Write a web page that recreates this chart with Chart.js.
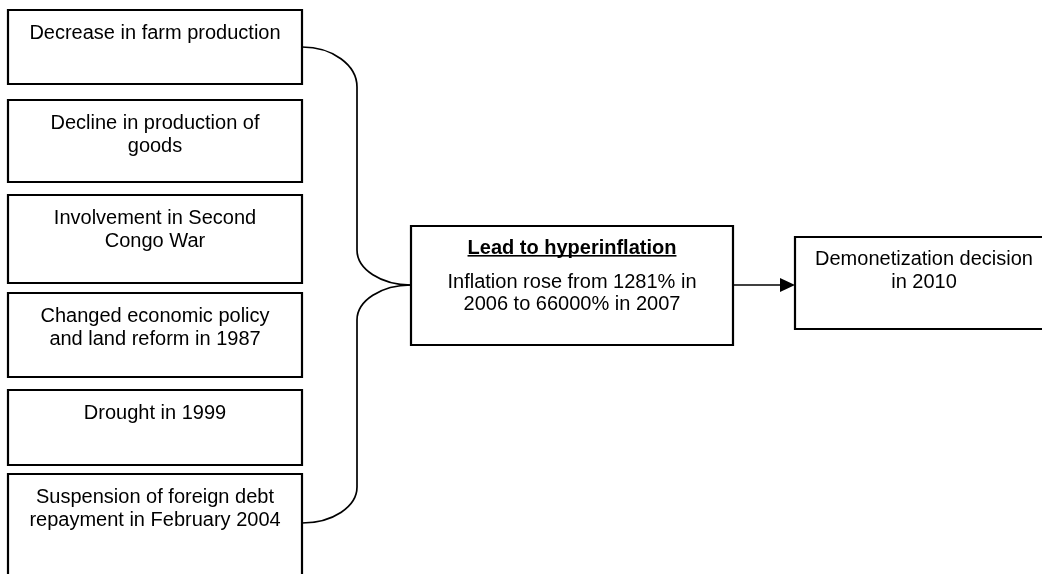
<!DOCTYPE html>
<html>
<head>
<meta charset="utf-8">
<script src="https://cdn.jsdelivr.net/npm/chart.js@4/dist/chart.umd.min.js"></script>
<style>
  html, body { margin: 0; padding: 0; background: #ffffff; }
  #wrap { width: 1042px; height: 574px; position: relative; }
</style>
</head>
<body>
<div id="wrap"><canvas id="c"></canvas></div>
<script>
// ---- content ----
const causeLabels = [
  ["Decrease in farm production"],
  ["Decline in production of", "goods"],
  ["Involvement in Second", "Congo War"],
  ["Changed economic policy", "and land reform in 1987"],
  ["Drought in 1999"],
  ["Suspension of foreign debt", "repayment in February 2004"]
];
const effectTitle = "Lead to hyperinflation";
const effectLines = ["Inflation rose from 1281% in", "2006 to 66000% in 2007"];
const outcomeLines = ["Demonetization decision", "in 2010"];

// ---- layout (diagram coordinates on the hidden linear scales) ----
const causeLeft = 8, causeRight = 302;
const causeTops = [10, 100, 195, 293, 390, 474];
const causeBottoms = [84, 182, 283, 377, 465, 620];
const effectBox = { l: 411, t: 226, r: 733, b: 345 };
const outcomeBox = { l: 795, t: 237, r: 1053, b: 329 };
const braceX = 357, joinY = 285;
const topLinkY = 47, bottomLinkY = 523;

function rectPoints(l, t, r, b) {
  return [{x:l,y:t},{x:r,y:t},{x:r,y:b},{x:l,y:b},{x:l,y:t},{x:r,y:t}];
}
const boxDatasets = [];
causeTops.forEach((t, i) => {
  boxDatasets.push(rectPoints(causeLeft, t, causeRight, causeBottoms[i]));
});
boxDatasets.push(rectPoints(effectBox.l, effectBox.t, effectBox.r, effectBox.b));
boxDatasets.push(rectPoints(outcomeBox.l, outcomeBox.t, outcomeBox.r, outcomeBox.b));

const FONT = '"Liberation Sans", Arial, sans-serif';

const diagramPlugin = {
  id: 'diagram',
  afterDatasetsDraw(chart) {
    const ctx = chart.ctx;
    const xs = chart.scales.x, ys = chart.scales.y;
    const X = v => xs.getPixelForValue(v);
    const Y = v => ys.getPixelForValue(v);
    const k = 0.5523;
    ctx.save();
    ctx.strokeStyle = '#000';
    ctx.lineWidth = 1.7;
    ctx.beginPath();
    let x0 = causeRight, y0 = topLinkY, x1 = braceX, y1 = 87;
    ctx.moveTo(X(x0), Y(y0));
    ctx.bezierCurveTo(X(x0 + k*(x1-x0)), Y(y0), X(x1), Y(y1 - k*(y1-y0)), X(x1), Y(y1));
    ctx.lineTo(X(braceX), Y(250));
    x0 = braceX; y0 = 250; x1 = effectBox.l; y1 = joinY;
    ctx.bezierCurveTo(X(x0), Y(y0 + k*(y1-y0)), X(x1 - k*(x1-x0)), Y(y1), X(x1), Y(y1));
    ctx.stroke();
    ctx.beginPath();
    x0 = effectBox.l; y0 = joinY; x1 = braceX; y1 = 320;
    ctx.moveTo(X(x0), Y(y0));
    ctx.bezierCurveTo(X(x0 - k*(x0-x1)), Y(y0), X(x1), Y(y1 - k*(y1-y0)), X(x1), Y(y1));
    ctx.lineTo(X(braceX), Y(487));
    x0 = braceX; y0 = 487; x1 = causeRight; y1 = bottomLinkY;
    ctx.bezierCurveTo(X(x0), Y(y0 + k*(y1-y0)), X(x1 + k*(x0-x1)), Y(y1), X(x1), Y(y1));
    ctx.stroke();

    // arrow
    ctx.beginPath();
    ctx.moveTo(X(effectBox.r), Y(joinY));
    ctx.lineTo(X(781), Y(joinY));
    ctx.stroke();
    ctx.fillStyle = '#000';
    ctx.beginPath();
    ctx.moveTo(X(outcomeBox.l), Y(joinY));
    ctx.lineTo(X(780), Y(joinY - 7));
    ctx.lineTo(X(780), Y(joinY + 7));
    ctx.closePath();
    ctx.fill();

    // texts
    ctx.fillStyle = '#000';
    ctx.textAlign = 'center';
    ctx.textBaseline = 'middle';
    ctx.font = '20px ' + FONT;
    const cx = (causeLeft + causeRight) / 2;
    causeLabels.forEach((lines, i) => {
      lines.forEach((ln, j) => {
        ctx.fillText(ln, X(cx), Y(causeTops[i] + 23 + j * 23));
      });
    });
    const ecx = (effectBox.l + effectBox.r) / 2;
    ctx.font = 'bold 20px ' + FONT;
    ctx.fillText(effectTitle, X(ecx), Y(248));
    const tw = ctx.measureText(effectTitle).width;
    ctx.fillRect(X(ecx) - tw/2, Y(255), tw, 1.6);
    ctx.font = '20px ' + FONT;
    effectLines.forEach((ln, j) => ctx.fillText(ln, X(ecx), Y(282 + j * 22)));
    const ocx = (outcomeBox.l + outcomeBox.r) / 2;
    outcomeLines.forEach((ln, j) => ctx.fillText(ln, X(ocx), Y(259 + j * 23)));
    ctx.restore();
  }
};

new Chart(document.getElementById('c'), {
  type: 'scatter',
  data: {
    datasets: boxDatasets.map(pts => ({
      data: pts,
      showLine: true,
      borderColor: '#000',
      backgroundColor: '#000',
      borderWidth: 2.2,
      borderJoinStyle: 'miter',
      borderCapStyle: 'square',
      pointRadius: 0,
      tension: 0,
      fill: false
    }))
  },
  options: {
    responsive: true,
    maintainAspectRatio: false,
    animation: false,
    layout: { padding: 0 },
    plugins: { legend: { display: false }, tooltip: { enabled: false }, title: { display: false } },
    events: [],
    scales: {
      x: { type: 'linear', min: 0, max: 1042, display: false },
      y: { type: 'linear', min: 0, max: 574, reverse: true, display: false }
    }
  },
  plugins: [diagramPlugin]
});
</script>
</body>
</html>
